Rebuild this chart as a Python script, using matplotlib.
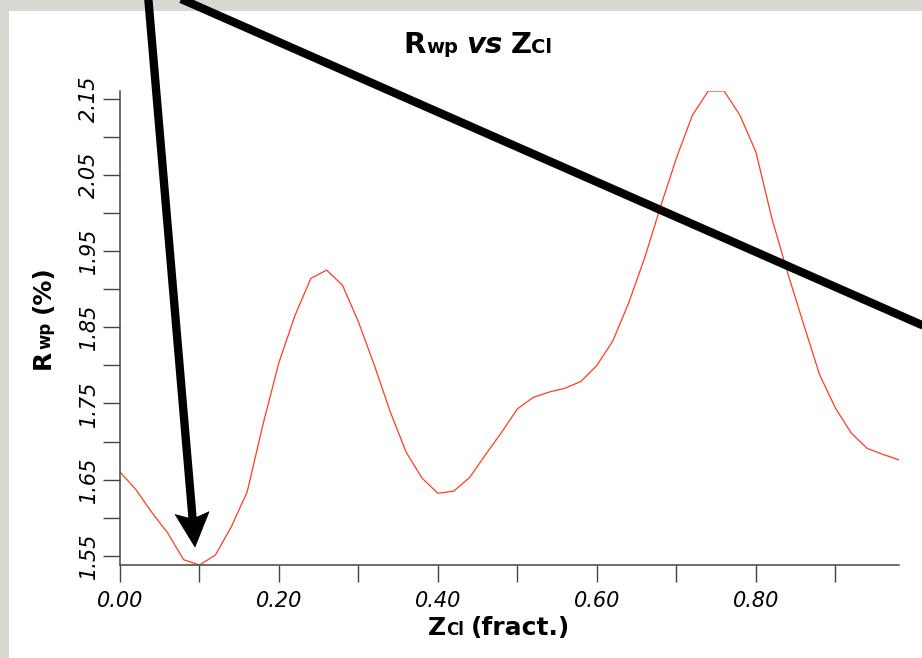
import math
import matplotlib
matplotlib.use("Agg")
import matplotlib.pyplot as plt
from matplotlib.patches import Rectangle, Polygon
from matplotlib.lines import Line2D
from matplotlib.transforms import offset_copy

# Cl fractional z coordinate and the resulting Rwp (%)
z_cl = [0.00, 0.02, 0.04, 0.06, 0.08, 0.10, 0.12, 0.14, 0.16, 0.18,
        0.20, 0.22, 0.24, 0.26, 0.28, 0.30, 0.32, 0.34, 0.36, 0.38,
        0.40, 0.42, 0.44, 0.46, 0.48, 0.50, 0.52, 0.54, 0.56, 0.58,
        0.60, 0.62, 0.64, 0.66, 0.68, 0.70, 0.72, 0.74, 0.76, 0.78,
        0.80, 0.82, 0.84, 0.86, 0.88, 0.90, 0.92, 0.94, 0.96, 0.98]
rwp = [1.660, 1.637, 1.607, 1.580, 1.545, 1.538, 1.551, 1.588, 1.634, 1.723,
       1.804, 1.865, 1.914, 1.925, 1.905, 1.857, 1.800, 1.739, 1.686, 1.652,
       1.632, 1.635, 1.653, 1.683, 1.712, 1.743, 1.758, 1.765, 1.770, 1.779,
       1.800, 1.832, 1.882, 1.941, 2.008, 2.072, 2.128, 2.160, 2.160, 2.128,
       2.080, 1.993, 1.921, 1.854, 1.788, 1.744, 1.711, 1.691, 1.683, 1.676]

x_ticks = [0.0, 0.1, 0.2, 0.3, 0.4, 0.5, 0.6, 0.7, 0.8, 0.9]
x_labels = ['0.00', '', '0.20', '', '0.40', '', '0.60', '', '0.80', '']
y_ticks = [1.55, 1.60, 1.65, 1.70, 1.75, 1.80, 1.85, 1.90, 1.95, 2.00, 2.05, 2.10, 2.15]
y_labels = ['1.55', '', '1.65', '', '1.75', '', '1.85', '', '1.95', '', '2.05', '', '2.15']

W, H = 922, 658


def px(x, y):
    # pixel position (from top-left) -> figure fraction
    return x / W, 1 - y / H


def rich(fig, x, y, pieces, rotation=0):
    # draw a run of differently sized pieces on one baseline, centred on (x, y)
    r = fig.canvas.get_renderer()
    widths = []
    for s, size, style, gap in pieces:
        t = fig.text(0, 0, s, fontsize=size, weight='bold', style=style)
        widths.append(t.get_window_extent(r).width + gap)
        t.remove()
    off = -sum(widths) / 2
    c, sn = math.cos(math.radians(rotation)), math.sin(math.radians(rotation))
    for (s, size, style, gap), w in zip(pieces, widths):
        tr = offset_copy(fig.transFigure, fig=fig, x=off * c, y=off * sn, units='dots')
        fig.text(x, y, s, transform=tr, fontsize=size, weight='bold', style=style,
                 ha='left', va='baseline', rotation=rotation, rotation_mode='anchor')
        off += w


fig = plt.figure(figsize=(W / 100, H / 100), dpi=100, facecolor='#d9d7d1')
fig.patches.append(Rectangle(px(9, 658), 1, 1 - 11 / H, transform=fig.transFigure,
                             facecolor='white', edgecolor='none', zorder=-5))

ax = fig.add_axes([120 / W, 1 - 565 / H, (899 - 120) / W, (565 - 91) / H])
ax.set_facecolor('none')
ax.plot(z_cl, rwp, color='#ff3d1f', lw=0.9)
ax.set_xlim(z_cl[0], z_cl[-1])
ax.set_ylim(min(rwp), max(rwp))

for side in ['top', 'right']:
    ax.spines[side].set_visible(False)
for side in ['left', 'bottom']:
    ax.spines[side].set_color('#444444')
    ax.spines[side].set_linewidth(1.1)

ax.set_xticks(x_ticks)
ax.set_xticklabels(x_labels, style='italic')
ax.set_yticks(y_ticks)
ax.set_yticklabels(y_labels, style='italic', rotation=90, va='center')
ax.tick_params(direction='out', length=12, width=1, color='#444444', labelsize=15)
ax.tick_params(axis='x', pad=7)
ax.tick_params(axis='y', pad=3)

# title and axis labels with small lettering on the same baseline
rich(fig, *px(478, 53), [('R', 21, 'normal', 0), ('wp', 14, 'normal', 8),
                         ('vs', 21, 'italic', 8), ('Z', 21, 'normal', 0),
                         ('Cl', 14, 'normal', 0)])
rich(fig, *px(499, 635), [('Z', 18, 'normal', 0), ('Cl', 12, 'normal', 7),
                          ('(fract.)', 18, 'normal', 0)])
rich(fig, *px(50, 317), [('R', 18, 'normal', 0), ('wp', 12, 'normal', 9),
                         ('(%)', 18, 'normal', 0)], rotation=90)

# black annotation strokes drawn over the figure
tip = (195, 547)
start = (148, -5)
dx, dy = tip[0] - start[0], tip[1] - start[1]
n = math.hypot(dx, dy)
ux, uy = dx / n, dy / n
head_len, half_w = 34, 17
bx, by = tip[0] - head_len * ux, tip[1] - head_len * uy
nx, ny = tip[0] - (head_len - 6) * ux, tip[1] - (head_len - 6) * uy
head = [px(bx + half_w * uy, by - half_w * ux), px(*tip),
        px(bx - half_w * uy, by + half_w * ux), px(nx, ny)]

p0, p1 = px(*start), px(nx, ny)
fig.add_artist(Line2D([p0[0], p1[0]], [p0[1], p1[1]], transform=fig.transFigure,
                      color='black', lw=6, solid_capstyle='butt', zorder=10))
fig.add_artist(Polygon(head, closed=True, transform=fig.transFigure,
                       facecolor='black', edgecolor='black', lw=0.5, zorder=10))
q0, q1 = px(172, -5), px(940, 333)
fig.add_artist(Line2D([q0[0], q1[0]], [q0[1], q1[1]], transform=fig.transFigure,
                      color='black', lw=6, solid_capstyle='butt', zorder=10))

fig.savefig('out.png', dpi=100, facecolor=fig.get_facecolor())
